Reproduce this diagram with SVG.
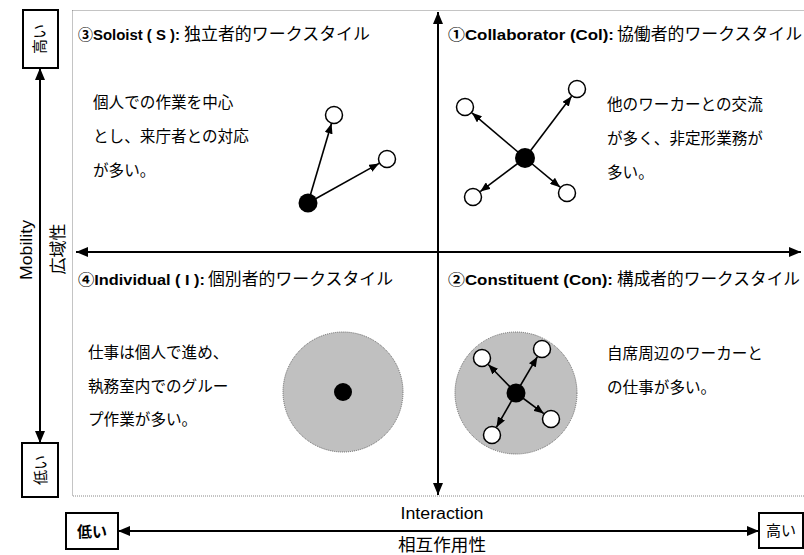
<svg xmlns="http://www.w3.org/2000/svg" width="804" height="555" viewBox="0 0 804 555">
<defs>
<marker id="ah" markerUnits="userSpaceOnUse" markerWidth="10" markerHeight="8" refX="10" refY="4" orient="auto-start-reverse"><path d="M0,0 L10,4 L0,8 z" fill="#000"/></marker>
<marker id="axh" markerUnits="userSpaceOnUse" markerWidth="12" markerHeight="10" refX="12" refY="5" orient="auto-start-reverse"><path d="M0,0 L12,5 L0,10 z" fill="#000"/></marker>
<style>
.jp{font-family:"Noto Sans CJK JP","Noto Sans",sans-serif;fill:#000}
.en{font-family:"Liberation Sans",Arial,sans-serif;fill:#000}
.tb{font-family:"Liberation Sans","Noto Sans CJK JP",sans-serif;font-weight:bold;font-size:15px}
.tj{font-family:"Noto Sans CJK JP",sans-serif;font-size:16.5px}
.body{font-family:"Noto Sans CJK JP",sans-serif;font-size:15.6px}
.ax{stroke:#000;stroke-width:2;fill:none}
.ar{stroke:#000;stroke-width:1.6;fill:none}
.open{fill:#fff;stroke:#000;stroke-width:1.5}
.dot{fill:#000}
.zone{fill:#c0c0c0;stroke:#666;stroke-width:1;stroke-dasharray:1 1}
.box{fill:#fff;stroke:#000;stroke-width:2}
</style>
</defs>
<rect width="804" height="555" fill="#fff"/>
<rect x="72.5" y="10.5" width="740" height="485.5" fill="none" stroke="#888" stroke-width="1" stroke-dasharray="1 1"/>

<g id="connectors">
<line class="ax" x1="438" y1="12" x2="438" y2="495" marker-start="url(#axh)" marker-end="url(#axh)"/>
<line class="ax" x1="76" y1="252" x2="801" y2="252" marker-start="url(#axh)" marker-end="url(#axh)"/>
<line class="ax" x1="40" y1="68" x2="40" y2="443" marker-start="url(#axh)" marker-end="url(#axh)"/>
<line class="ax" x1="118" y1="531" x2="759" y2="531" marker-start="url(#axh)" marker-end="url(#axh)"/>
<line class="ar" x1="308" y1="203" x2="331.5" y2="123.6" marker-end="url(#ah)"/>
<line class="ar" x1="308" y1="203" x2="379.1" y2="163.4" marker-end="url(#ah)"/>
<line class="ar" x1="525" y1="158" x2="471.9" y2="112.8" marker-end="url(#ah)"/>
<line class="ar" x1="525" y1="158" x2="571.6" y2="96.2" marker-end="url(#ah)"/>
<line class="ar" x1="525" y1="158" x2="480.2" y2="191.6" marker-end="url(#ah)"/>
<line class="ar" x1="525" y1="158" x2="560.1" y2="187.2" marker-end="url(#ah)"/>
</g>

<g id="axis-mobility">
<rect class="box" x="23" y="10" width="35" height="58"/>
<text class="jp" font-size="15" text-anchor="middle" transform="translate(45,39) rotate(-90)">高い</text>
<rect class="box" x="22" y="443" width="36" height="54"/>
<text class="jp" font-size="15" text-anchor="middle" transform="translate(46,470) rotate(-90)">低い</text>
<text class="en" font-size="16" text-anchor="middle" textLength="60" lengthAdjust="spacingAndGlyphs" transform="translate(32,250) rotate(-90)">Mobility</text>
<text class="jp" font-size="17" text-anchor="middle" transform="translate(64,249) rotate(-90)">広域性</text>
</g>

<g id="axis-interaction">
<rect class="box" x="66" y="513" width="52" height="36"/>
<text class="jp" font-size="15" font-weight="bold" text-anchor="middle" x="92" y="537">低い</text>
<rect class="box" x="759" y="513" width="44" height="35"/>
<text class="jp" font-size="15" text-anchor="middle" x="781" y="536">高い</text>
<text class="en" font-size="16" text-anchor="middle" x="442" y="519" textLength="83" lengthAdjust="spacingAndGlyphs">Interaction</text>
<text class="jp" font-size="16.5" text-anchor="middle" x="442" y="551" textLength="88" lengthAdjust="spacingAndGlyphs">相互作用性</text>
</g>

<g id="q3-soloist">
<text class="tb" x="78" y="40" textLength="102" lengthAdjust="spacingAndGlyphs">③Soloist ( S ):</text>
<text class="tj" x="184" y="40" textLength="186" lengthAdjust="spacingAndGlyphs">独立者的ワークスタイル</text>
<text class="body" x="93" y="108">個人での作業を中心</text>
<text class="body" x="93" y="142">とし、来庁者との対応</text>
<text class="body" x="93" y="176">が多い。</text>
<circle class="open" cx="334" cy="115" r="8.5"/>
<circle class="open" cx="387" cy="159" r="8.5"/>
<circle class="dot" cx="308" cy="203" r="9.5"/>
</g>

<g id="q1-collaborator">
<text class="tb" x="448" y="40" textLength="166" lengthAdjust="spacingAndGlyphs">①Collaborator (Col):</text>
<text class="tj" x="617" y="40" textLength="185" lengthAdjust="spacingAndGlyphs">協働者的ワークスタイル</text>
<text class="body" x="607" y="110">他のワーカーとの交流</text>
<text class="body" x="607" y="144">が多く、非定形業務が</text>
<text class="body" x="607" y="178">多い。</text>
<circle class="open" cx="465" cy="107" r="8.5"/>
<circle class="open" cx="577" cy="89" r="8.5"/>
<circle class="open" cx="473" cy="197" r="8.5"/>
<circle class="open" cx="567" cy="193" r="8.5"/>
<circle class="dot" cx="525" cy="158" r="10"/>
</g>

<g id="q4-individual">
<text class="tb" x="78" y="285" textLength="127" lengthAdjust="spacingAndGlyphs">④Individual ( I ):</text>
<text class="tj" x="208" y="285" textLength="185" lengthAdjust="spacingAndGlyphs">個別者的ワークスタイル</text>
<text class="body" x="88" y="358">仕事は個人で進め、</text>
<text class="body" x="88" y="392">執務室内でのグルー</text>
<text class="body" x="88" y="425">プ作業が多い。</text>
<circle class="zone" cx="343" cy="392" r="60"/>
<circle class="dot" cx="343" cy="392" r="9"/>
</g>

<g id="q2-constituent">
<text class="tb" x="448" y="285" textLength="165" lengthAdjust="spacingAndGlyphs">②Constituent (Con):</text>
<text class="tj" x="617" y="285" textLength="183" lengthAdjust="spacingAndGlyphs">構成者的ワークスタイル</text>
<text class="body" x="607" y="359">自席周辺のワーカーと</text>
<text class="body" x="607" y="393">の仕事が多い。</text>
<circle class="zone" cx="516" cy="393" r="61"/>
<line class="ar" x1="516" y1="393" x2="488.3" y2="364.5" marker-end="url(#ah)"/>
<line class="ar" x1="516" y1="393" x2="537.4" y2="356.7" marker-end="url(#ah)"/>
<line class="ar" x1="516" y1="393" x2="496.5" y2="427.2" marker-end="url(#ah)"/>
<line class="ar" x1="516" y1="393" x2="543.8" y2="413.6" marker-end="url(#ah)"/>
<circle class="open" cx="482" cy="358" r="8.5"/>
<circle class="open" cx="542" cy="349" r="8.5"/>
<circle class="open" cx="492" cy="435" r="8.5"/>
<circle class="open" cx="551" cy="419" r="8.5"/>
<circle class="dot" cx="516" cy="393" r="9.5"/>
</g>
</svg>
